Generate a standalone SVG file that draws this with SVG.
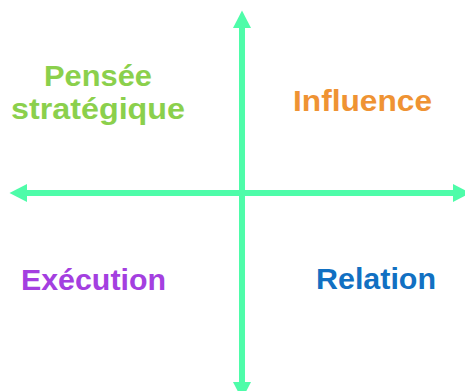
<svg xmlns="http://www.w3.org/2000/svg" width="465" height="391" viewBox="0 0 465 391">
  <style>
    .axis { stroke: #4efca9; stroke-width: 6; fill: none; }
    .lbl { font-family: "Liberation Sans", Arial, sans-serif; font-weight: bold; font-size: 30px; }
  </style>
  <defs>
    <marker id="arrow" markerUnits="userSpaceOnUse" markerWidth="18" markerHeight="18" refX="0" refY="9" orient="auto-start-reverse" viewBox="0 0 18 18">
      <path d="M0,0 L17.5,9 L0,18 Z" fill="#4efca9"/>
    </marker>
  </defs>
  <rect width="465" height="391" fill="#ffffff"/>
  <g id="connectors">
    <line class="axis" x1="242" y1="382" x2="242" y2="28" marker-start="url(#arrow)" marker-end="url(#arrow)"/>
    <line class="axis" x1="27" y1="193" x2="453" y2="193" marker-start="url(#arrow)" marker-end="url(#arrow)"/>
  </g>
  <g id="pensee">
    <text class="lbl" fill="#8bd04c" x="44" y="86" textLength="108" lengthAdjust="spacingAndGlyphs">Pensée</text>
    <text class="lbl" fill="#8bd04c" x="11" y="119" textLength="174" lengthAdjust="spacingAndGlyphs">stratégique</text>
  </g>
  <g id="influence">
    <text class="lbl" fill="#ef9333" x="293" y="111" textLength="139" lengthAdjust="spacingAndGlyphs">Influence</text>
  </g>
  <g id="execution">
    <text class="lbl" fill="#a43fe0" x="21" y="290" textLength="145" lengthAdjust="spacingAndGlyphs">Exécution</text>
  </g>
  <g id="relation">
    <text class="lbl" fill="#1170c2" x="316" y="289" textLength="120" lengthAdjust="spacingAndGlyphs">Relation</text>
  </g>
</svg>
